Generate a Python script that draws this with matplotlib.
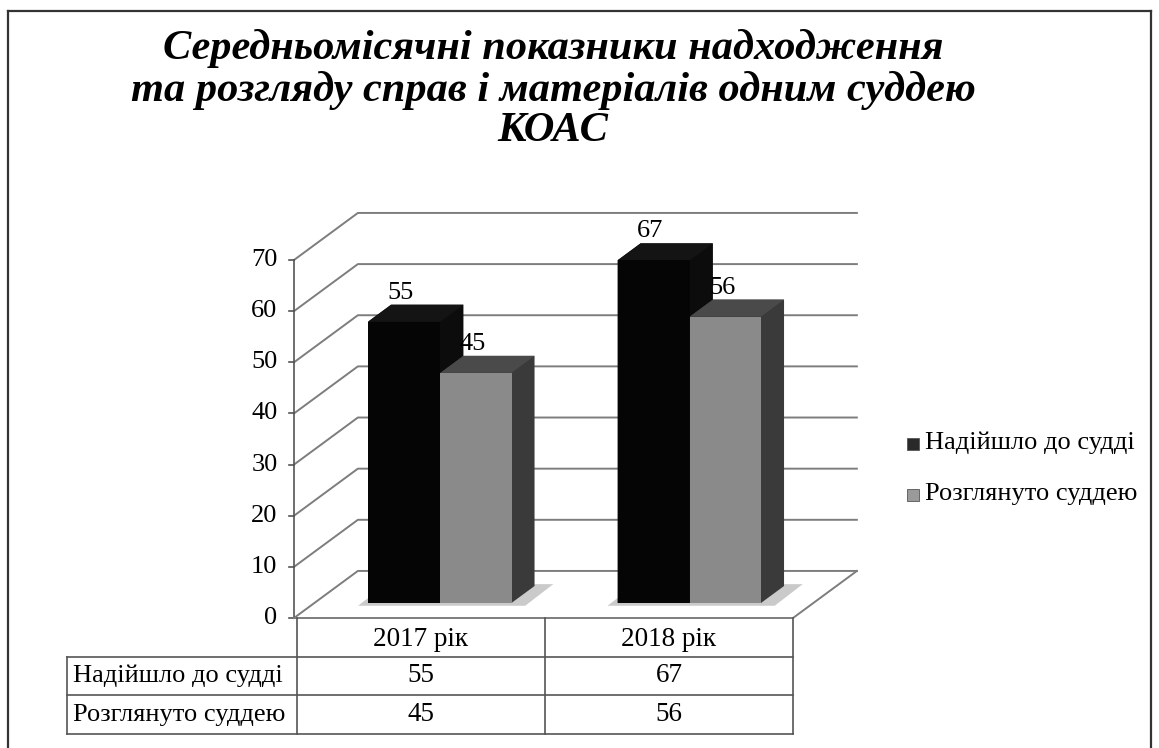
import matplotlib.pyplot as plt
from matplotlib.patches import Polygon, Rectangle
from matplotlib.lines import Line2D

# Data
years = ['2017 рік', '2018 рік']
series = ['Надійшло до судді', 'Розглянуто суддею']
received = [55, 67]
reviewed = [45, 56]
yticks = [0, 10, 20, 30, 40, 50, 60, 70]
title_lines = ['Середньомісячні показники надходження',
               'та розгляду справ і матеріалів одним суддею',
               'КОАС']

SERIF = 'Liberation Serif'
W, H = 1159, 748
fig = plt.figure(figsize=(W / 100, H / 100), dpi=100)


def fx(px):
    return px / W


def fy(py):
    return 1 - py / H


def fline(x0, y0, x1, y1, color='#555555', lw=1.2):
    fig.add_artist(Line2D([fx(x0), fx(x1)], [fy(y0), fy(y1)], color=color,
                          lw=lw, transform=fig.transFigure))


# outer frame
fline(8, 11, 1151, 11, '#333333', 1.6)
fline(8, 11, 8, 748, '#333333', 1.6)
fline(1151, 11, 1151, 748, '#333333', 1.6)

# title
for i, line in enumerate(title_lines):
    fig.text(fx(553), fy(49 + 41 * i), line, ha='center', va='center',
             fontsize=30.5, fontweight='bold', fontstyle='italic', family=SERIF)

# plot area: front floor edge x 0..2, values 0..70
ax = fig.add_axes([fx(294), fy(618), fx(793) - fx(294), fy(260) - fy(618)])
ax.set_xlim(0, 2)
ax.set_ylim(0, 70)
ax.axis('off')

DX, DY = 0.256, 9.2   # depth offset of the back wall
grid_c = '#7d7d7d'

for v in yticks:
    ax.plot([0, DX, 2 + DX], [v, v + DY, v + DY], color=grid_c, lw=1.4,
            clip_on=False, zorder=1)
    ax.plot([-0.022, 0], [v, v], color='#555555', lw=1.2, clip_on=False)
    ax.text(-0.066, v, str(v), ha='right', va='center', fontsize=19,
            family=SERIF)
ax.plot([0, 0], [0, 70], color='#555555', lw=1.2, clip_on=False)
ax.plot([0, 2, 2 + DX], [0, 0, DY], color=grid_c, lw=1.4, clip_on=False)


def bar3d(x0, w, h, z0, z1, front, top, side):
    a0, b0 = z0 * DX, z0 * DY
    a1, b1 = z1 * DX, z1 * DY
    ax.add_patch(Polygon([(x0 + a0, b0), (x0 + w + a0, b0),
                          (x0 + w + a1, b1), (x0 + w + a1, h + b1),
                          (x0 + a1, h + b1), (x0 + a0, h + b0)],
                         closed=True, fc=side, ec='none', zorder=3,
                         clip_on=False))
    ax.add_patch(Polygon([(x0 + a0, h + b0), (x0 + w + a0, h + b0),
                          (x0 + w + a1, h + b1), (x0 + a1, h + b1)],
                         closed=True, fc=top, ec='none', zorder=3,
                         clip_on=False))
    ax.add_patch(Rectangle((x0 + a0, b0), w, h, fc=front, ec='none',
                           zorder=3, clip_on=False))


bw = 0.29
Z0, Z1 = 0.32, 0.68
styles = [('#050505', '#141414', '#0c0c0c'), ('#8a8a8a', '#4a4a4a', '#3a3a3a')]
for i in range(len(years)):
    mid = i + 0.505
    # soft shadow on the floor
    ax.add_patch(Polygon([(mid - bw - 0.03 + 0.28 * DX, 0.26 * DY),
                          (mid + bw + 0.06 + 0.28 * DX, 0.26 * DY),
                          (mid + bw + 0.06 + 0.72 * DX, 0.72 * DY),
                          (mid - bw - 0.03 + 0.72 * DX, 0.72 * DY)],
                         closed=True, fc='#a8a8a8', ec='none', alpha=0.6,
                         zorder=2, clip_on=False))
    for j, vals in enumerate([received, reviewed]):
        x0 = mid - bw + j * bw
        f, t, s = styles[j]
        bar3d(x0, bw - 0.005 * j, vals[i], Z0, Z1, f, t, s)
        ax.text(x0 + bw / 2 + Z0 * DX - 0.016, vals[i] + Z1 * DY + 0.2,
                str(vals[i]), ha='center', va='bottom', fontsize=19,
                family=SERIF, zorder=5)

# legend
leg_c = ['#2a2a2a', '#9a9a9a']
for k, name in enumerate(series):
    yc = 444 + 51 * k
    fig.add_artist(Rectangle((fx(907), fy(yc + 6)), fx(12), 12 / H,
                             fc=leg_c[k], ec='#555555', lw=0.6,
                             transform=fig.transFigure))
    fig.text(fx(925), fy(yc - 1), name, ha='left', va='center', fontsize=19,
             family=SERIF)

# data table
tc = '#555555'
cols = [67, 297, 545, 793]
rows = [618, 657, 695, 734]
fline(297, rows[0], 297, rows[3], tc)
fline(545, rows[0], 545, rows[3], tc)
fline(793, rows[0], 793, rows[3], tc)
fline(67, rows[1], 67, rows[3], tc)
fline(67, rows[1], 793, rows[1], tc)
fline(67, rows[2], 793, rows[2], tc)
fline(67, rows[3], 793, rows[3], tc)

for i, yr in enumerate(years):
    cx = (cols[i + 1] + cols[i + 2]) / 2
    fig.text(fx(cx), fy(639), yr, ha='center', va='center', fontsize=19.5,
             family=SERIF)
    for k, vals in enumerate([received, reviewed]):
        fig.text(fx(cx), fy((rows[k + 1] + rows[k + 2]) / 2), str(vals[i]),
                 ha='center', va='center', fontsize=19.5, family=SERIF)
for k, name in enumerate(series):
    fig.text(fx(73), fy((rows[k + 1] + rows[k + 2]) / 2), name, ha='left',
             va='center', fontsize=19, family=SERIF)

fig.savefig('out.png', dpi=100, facecolor='white')
